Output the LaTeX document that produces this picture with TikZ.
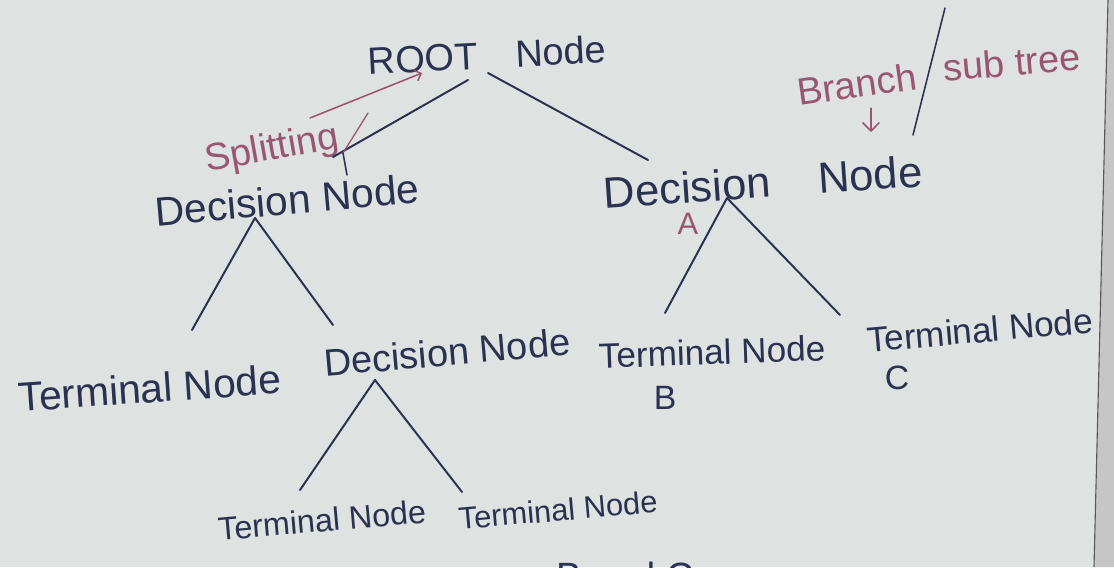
\documentclass[tikz,border=0pt]{standalone}
\usepackage{fontspec}
\setmainfont{Liberation Sans}
\usepackage{xcolor}
\usetikzlibrary{arrows.meta, positioning}

\definecolor{paper}{HTML}{DEE2E1}
\definecolor{ink}{HTML}{2B3150}
\definecolor{redink}{HTML}{9A5570}

\begin{document}
\begin{tikzpicture}[
  x=0.025cm, y=-0.025cm,
  word/.style={inner sep=0pt, text=ink, font=\fontsize{29}{34}\selectfont},
  small/.style={word, font=\fontsize{24}{29}\selectfont},
  note/.style={inner sep=0pt, text=redink, font=\fontsize{27}{32}\selectfont},
  branch/.style={draw=ink, line width=1.4pt, line cap=round},
  pointer/.style={draw=redink, line width=1.1pt, line cap=round},
]
% Paper
\useasboundingbox (0,0) rectangle (1114,567);
\fill[paper] (0,0) rectangle (1114,567);
\fill[gray!45] (1108,0) -- (1114,0) -- (1114,567) -- (1094,567) -- cycle;
\draw[gray!70!black, line width=0.8pt] (1108,0) -- (1094,567);

% Nodes of the tree
\node[word, rotate=3, font=\fontsize{27}{32}\selectfont] (root) at (487,55) {ROOT\hspace{1em}Node};
\node[word, rotate=5] (dl) at (287,200) {Decision Node};
\node[word, rotate=4, font=\fontsize{31}{36}\selectfont] (dr) at (763,182) {Decision\hspace{1.1em}Node};
\node[word, rotate=4] (tl) at (150,388) {Terminal Node};
\node[word, rotate=5, font=\fontsize{27}{32}\selectfont] (dm) at (447,352) {Decision Node};
\node[small, rotate=2, font=\fontsize{25}{30}\selectfont] (tb) at (712,352) {Terminal Node};
\node[small, rotate=5, font=\fontsize{25}{30}\selectfont] (tc) at (980,330) {Terminal Node};
\node[small, rotate=5, font=\fontsize{23}{28}\selectfont] (tll) at (322,520) {Terminal Node};
\node[small, rotate=5, font=\fontsize{22}{27}\selectfont] (tlr) at (558,510) {Terminal Node};

% Letters under the nodes
\node[note, font=\fontsize{22}{26}\selectfont] (la) at (688,224) {A};
\node[small] (lb) at (665,398) {B};
\node[small] (lc) at (897,378) {C};
\node[word, font=\fontsize{27}{32}\selectfont] (bc) at (625,576) {B and C};

% Notes in red
\node[note, rotate=10] (split) at (272,150) {Splitting};
\node[note, rotate=8] (br) at (857,84) {Branch};
\node[note, rotate=5] (sub) at (1012,62) {sub tree};

% Ends of the strokes
\coordinate (rootL) at (468,80);
\coordinate (rootR) at (488,73);
\coordinate (dlIn) at (333,157);
\coordinate (drIn) at (648,160);
\coordinate (dlTop) at (255,218);
\coordinate (tlIn) at (192,330);
\coordinate (dmIn) at (333,325);
\coordinate (drTop) at (727,198);
\coordinate (tbIn) at (665,313);
\coordinate (tcIn) at (840,315);
\coordinate (dmTop) at (375,380);
\coordinate (tllIn) at (300,490);
\coordinate (tlrIn) at (462,492);

% Branches
\draw[branch] (rootL) -- (dlIn);
\draw[branch] (rootR) -- (drIn);
\draw[branch] (dlTop) -- (tlIn);
\draw[branch] (dlTop) -- (dmIn);
\draw[branch] (drTop) -- (tbIn);
\draw[branch] (drTop) -- (tcIn);
\draw[branch] (dmTop) -- (tllIn);
\draw[branch] (dmTop) -- (tlrIn);

% Pointers
\coordinate (splitStart) at (310,118);
\coordinate (splitEnd) at (422,73);
\coordinate (tickA) at (368,113);
\coordinate (tickB) at (343,153);
\coordinate (tickC) at (347,175);
\coordinate (slashTop) at (945,8);
\coordinate (slashBot) at (913,135);
\coordinate (brEnd) at (871,132);
\draw[pointer, -{Straight Barb[length=4pt, width=8pt]}] (splitStart) -- (splitEnd);
\draw[pointer, line width=0.9pt] (tickA) -- (tickB);
\draw[branch, line width=1.1pt] (tickB) -- (tickC);
\draw[branch, line width=1.1pt] (slashTop) -- (slashBot);
\draw[pointer, -{Straight Barb[length=6pt, width=12pt]}] (br.south) ++(12,10) -- (brEnd);
\end{tikzpicture}
\end{document}
